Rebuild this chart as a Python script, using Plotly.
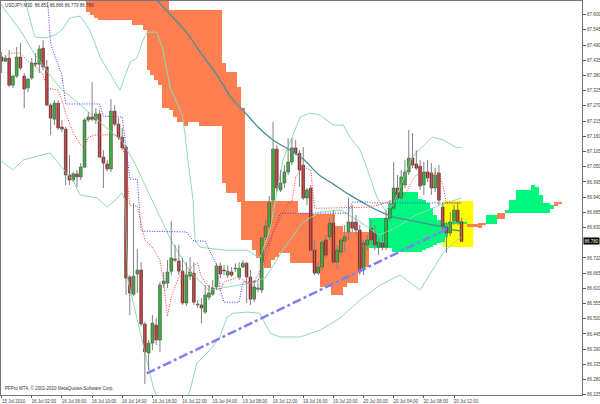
import plotly.graph_objects as go

# ---------------- data ----------------
# M30 candles, bar 0 = 15 Jul 2010 22:00
opens = [87.447, 87.432, 87.443, 87.345, 87.378, 87.447, 87.378, 87.335, 87.371, 87.425,
         87.421, 87.479, 87.411, 87.273, 87.222, 87.280, 87.194, 87.186, 87.020, 87.002,
         87.024, 87.013, 87.049, 87.219, 87.230, 87.219, 87.241, 87.085, 87.060, 87.042,
         87.251, 87.204, 87.157, 87.121, 86.651, 86.589, 86.662, 86.676, 86.481, 86.376,
         86.412, 86.477, 86.423, 86.626, 86.629, 86.672, 86.716, 86.709, 86.672, 86.557,
         86.654, 86.665, 86.550, 86.550, 86.524, 86.578, 86.589, 86.615, 86.691, 86.676,
         86.658, 86.669, 86.683, 86.651, 86.687, 86.701, 86.651, 86.571, 86.607, 86.604,
         86.796, 86.835, 86.929, 87.114, 86.966, 86.991, 87.031, 87.067, 87.118, 87.099,
         87.056, 86.937, 86.973, 86.748, 86.665, 86.687, 86.785, 86.796, 86.846, 86.705,
         86.741, 86.781, 86.814, 86.850, 86.850, 86.821, 86.676, 86.767, 86.828, 86.810,
         86.759, 86.774, 86.759, 86.864, 86.900, 86.973, 86.937, 86.984, 87.031, 87.081,
         87.060, 87.052, 86.984, 87.031, 87.027, 86.973, 87.027, 86.904, 86.832, 86.810,
         86.853, 86.893, 86.851]
highs = [87.465, 87.454, 87.472, 87.382, 87.483, 87.497, 87.389, 87.371, 87.443, 87.461,
         87.490, 87.508, 87.436, 87.280, 87.291, 87.291, 87.219, 87.194, 87.092, 87.031,
         87.038, 87.063, 87.226, 87.248, 87.356, 87.262, 87.255, 87.110, 87.074, 87.295,
         87.273, 87.226, 87.190, 87.128, 86.658, 86.919, 86.752, 86.705, 86.488, 86.423,
         86.513, 86.502, 86.633, 86.669, 86.712, 86.853, 86.767, 86.767, 86.720, 86.705,
         86.723, 86.705, 86.568, 86.575, 86.622, 86.622, 86.640, 86.701, 86.705, 86.694,
         86.694, 86.687, 86.701, 86.705, 86.712, 86.705, 86.676, 86.640, 86.629, 86.799,
         86.857, 86.944, 87.212, 87.128, 87.038, 87.056, 87.154, 87.154, 87.147, 87.110,
         87.121, 86.973, 86.984, 86.785, 86.705, 86.785, 86.803, 86.864, 86.893, 86.767,
         86.792, 86.839, 86.937, 86.911, 86.875, 86.839, 86.785, 86.803, 86.857, 86.839,
         86.792, 86.803, 86.893, 86.929, 87.067, 87.020, 87.038, 87.074, 87.183, 87.172,
         87.110, 87.074, 87.067, 87.074, 87.063, 87.045, 87.056, 86.919, 86.850, 86.886,
         86.911, 86.919, 86.866]
lows = [87.389, 87.429, 87.338, 87.335, 87.371, 87.400, 87.262, 87.320, 87.364, 87.411,
        87.389, 87.400, 87.269, 87.165, 87.201, 87.183, 87.175, 86.984, 86.984, 86.995,
        86.977, 87.002, 87.045, 87.212, 87.215, 87.204, 87.081, 86.973, 87.034, 87.031,
        87.197, 87.147, 87.110, 86.586, 86.513, 86.582, 86.593, 86.474, 86.264, 86.314,
        86.387, 86.405, 86.380, 86.611, 86.611, 86.658, 86.705, 86.658, 86.550, 86.546,
        86.640, 86.550, 86.539, 86.484, 86.517, 86.568, 86.582, 86.604, 86.647, 86.658,
        86.647, 86.651, 86.669, 86.640, 86.683, 86.557, 86.550, 86.560, 86.596, 86.593,
        86.785, 86.828, 86.911, 86.958, 86.958, 86.973, 87.020, 87.056, 87.092, 86.977,
        86.929, 86.911, 86.741, 86.658, 86.658, 86.676, 86.720, 86.785, 86.694, 86.676,
        86.726, 86.741, 86.785, 86.814, 86.803, 86.658, 86.658, 86.748, 86.767, 86.748,
        86.730, 86.748, 86.748, 86.850, 86.893, 86.929, 86.929, 86.973, 87.020, 87.045,
        87.038, 86.966, 86.948, 86.995, 86.948, 86.958, 86.911, 86.821, 86.738, 86.799,
        86.839, 86.839, 86.779]
closes = [87.432, 87.443, 87.345, 87.378, 87.447, 87.407, 87.331, 87.367, 87.425, 87.421,
          87.476, 87.411, 87.273, 87.226, 87.280, 87.190, 87.186, 87.020, 87.002, 87.024,
          87.013, 87.049, 87.219, 87.230, 87.222, 87.241, 87.085, 87.063, 87.042, 87.251,
          87.204, 87.157, 87.118, 86.647, 86.593, 86.654, 86.676, 86.481, 86.380, 86.412,
          86.484, 86.423, 86.622, 86.636, 86.669, 86.720, 86.712, 86.672, 86.557, 86.658,
          86.669, 86.560, 86.553, 86.539, 86.586, 86.593, 86.611, 86.691, 86.662, 86.673,
          86.672, 86.658, 86.681, 86.683, 86.701, 86.651, 86.571, 86.615, 86.611, 86.792,
          86.835, 86.919, 87.114, 86.973, 86.991, 87.031, 87.067, 87.118, 87.099, 87.038,
          86.937, 86.966, 86.748, 86.665, 86.687, 86.777, 86.730, 86.846, 86.705, 86.748,
          86.785, 86.796, 86.850, 86.828, 86.821, 86.669, 86.774, 86.785, 86.785, 86.767,
          86.777, 86.759, 86.864, 86.900, 86.973, 86.937, 87.013, 87.031, 87.081, 87.056,
          87.045, 86.980, 87.031, 87.009, 86.973, 87.020, 86.929, 86.832, 86.810, 86.850,
          86.893, 86.850, 86.780]

# Ichimoku cloud (Senkou span A / B), bars 23 .. 148 (shifted 26 bars ahead)
cloud_start = 23
span_a = ([87.610, 87.599, 87.588] + [87.581] * 9 + [87.563] * 3 + [87.545, 87.400, 87.382, 87.364, 87.345]
          + [87.262] * 2 + [87.255, 87.230] + [87.212] * 2 + [87.197] + [87.212] * 3 + [87.197] * 6
          + [86.991] + [86.955] * 3 + [86.922] + [86.785] * 3 + [86.748, 86.720, 86.705] + [86.683] * 2
          + [86.712, 86.723] + [86.738] * 3 + [86.701] * 6 + [86.665] * 2 + [86.615] * 3 + [86.586] * 3
          + [86.615] + [86.629] * 3 + [86.687] * 3
          + [86.864] * 5 + [86.919] + [86.958] * 7 + [86.933, 86.929, 86.919, 86.900, 86.875, 86.857]
          + [86.846] * 2 + [86.850] * 5 + [86.833] * 3 + [86.828, 86.839] + [86.875] * 3 + [86.861] * 2
          + [86.893] + [86.929] * 2 + [86.966] * 4 + [86.984, 86.977, 86.948] + [86.919] * 2 + [86.911]
          + [86.908, 86.915])
span_b = ([87.700] * 22 + [87.617] * 14 + [87.425] + [87.392] * 3 + [87.338, 87.262] + [86.926] * 14
          + [86.882] * 3 + [86.879] * 7 + [86.835] * 2 + [86.814] * 7
          + [86.756] * 6 + [86.741] * 8 + [86.748, 86.756, 86.759, 86.767, 86.774, 86.777, 86.796]
          + [86.843] * 5 + [86.844] * 3 + [86.846] * 2 + [86.843] * 3 + [86.882] * 2 + [86.882] * 12
          + [86.897] + [86.922] * 2)

# Tenkan-sen (bar, price)
tenkan_bar = [1, 2, 5, 7, 9, 11, 12, 15, 16, 17, 18, 19, 21, 22, 23, 25, 30, 32, 33, 34, 36, 37, 38, 40,
              42, 43, 44, 45, 47, 49, 51, 52, 53, 55, 58, 59, 63, 65, 67, 70, 72, 74, 76, 77, 78, 80, 82,
              83, 85, 98, 104, 107, 109, 110, 112, 116, 117, 118, 122]
tenkan_val = [87.447, 87.461, 87.461, 87.432, 87.414, 87.382, 87.335, 87.327, 87.291, 87.244, 87.208,
              87.172, 87.128, 87.121, 87.157, 87.165, 87.165, 87.147, 87.049, 86.911, 86.908, 86.850,
              86.785, 86.759, 86.712, 86.629, 86.510, 86.578, 86.651, 86.665, 86.694, 86.701, 86.651,
              86.615, 86.604, 86.633, 86.651, 86.629, 86.633, 86.712, 86.810, 86.868, 86.919, 86.922,
              87.013, 87.049, 87.038, 86.900, 86.900, 86.904, 86.929, 86.948, 87.002, 87.020, 87.027,
              87.027, 86.984, 86.919, 86.919]

# Kijun-sen (bar, price)
kijun_bar = [12, 13, 14, 15, 16, 17, 26, 27, 32, 33, 34, 36, 37, 49, 51, 54, 56, 57, 58, 59, 63, 64,
             68, 70, 72, 74, 92, 93, 97, 98, 122]
kijun_val = [87.690, 87.497, 87.454, 87.418, 87.382, 87.277, 87.277, 87.233, 87.230, 87.121, 87.005,
             87.005, 86.817, 86.814, 86.781, 86.781, 86.723, 86.694, 86.604, 86.560, 86.560, 86.633,
             86.633, 86.748, 86.814, 86.882, 86.882, 86.922, 86.922, 86.919, 86.919]

# Bollinger bands (bar, price)
bb_up_bar = [5.0, 6.2, 8.3, 8.9, 11.5, 14.2, 16.0, 18.1, 20.8, 23.4, 26.1, 31.4, 34.1, 35.9, 37.5, 38.6,
             41.2, 42.8, 44.7, 46.5, 47.9, 48.6, 49.4, 50.8, 51.3, 52.6, 59.3, 65.1, 68.5, 71.2, 74.6,
             79.2, 81.8, 84.5, 87.9, 90.6, 92.4, 95.1, 96.9, 99.6, 101.7, 103.8, 106.5, 108.9, 114.2,
             117.1, 120.8, 122]
bb_up_val = [87.707, 87.653, 87.545, 87.519, 87.516, 87.527, 87.545, 87.588, 87.595, 87.545, 87.447,
             87.327, 87.429, 87.443, 87.508, 87.537, 87.537, 87.472, 87.338, 87.280, 87.237, 87.172,
             87.074, 86.929, 86.785, 86.759, 86.748, 86.748, 86.720, 86.821, 87.074, 87.230, 87.244,
             87.237, 87.201, 87.201, 87.157, 87.110, 87.045, 86.937, 86.893, 86.911, 87.002, 87.085,
             87.157, 87.147, 87.118, 87.121]
bb_mid_bar = [-0.4, 0.9, 4.9, 8.9, 12.8, 15.5, 20.0, 26.1, 31.9, 34.9, 39.9, 44.9, 50.0, 55.0, 60.1,
              65.9, 69.9, 74.6, 79.9, 84.5, 90.0, 95.1, 100.1, 104.4, 109.9, 116.3, 122]
bb_mid_val = [87.642, 87.617, 87.545, 87.454, 87.382, 87.335, 87.284, 87.212, 87.143, 87.074, 86.929,
              86.785, 86.669, 86.604, 86.615, 86.629, 86.647, 86.748, 86.850, 86.886, 86.893, 86.850,
              86.803, 86.828, 86.875, 86.911, 86.937]
bb_low_bar = [-0.4, 3.0, 5.7, 12.8, 18.1, 18.9, 20.8, 25.3, 28.0, 30.1, 31.9, 32.7, 33.5, 36.7, 38.6,
              40.2, 43.3, 47.3, 50.0, 51.8, 55.3, 57.9, 59.8, 61.4, 65.1, 68.5, 71.2, 73.8, 79.2, 84.5,
              89.8, 95.1, 100.4, 105.7, 111.0, 114.4, 117.1, 120.8, 122]
bb_low_val = [87.074, 87.038, 87.074, 87.100, 87.013, 87.002, 86.948, 86.937, 86.904, 86.929, 86.955,
              86.929, 86.640, 86.459, 86.351, 86.253, 86.134, 86.134, 86.242, 86.340, 86.387, 86.434,
              86.506, 86.520, 86.524, 86.520, 86.448, 86.434, 86.434, 86.459, 86.503, 86.568, 86.622,
              86.658, 86.604, 86.676, 86.738, 86.785, 86.796]

# moving average (bar, price)
ma_bar = [36, 41, 45, 49, 53, 57, 61, 64, 68, 72, 76, 80, 84, 88, 92, 96, 100, 104, 108, 112, 116, 119, 122]
ma_val = [87.725, 87.655, 87.597, 87.537, 87.458, 87.385, 87.298, 87.255, 87.194, 87.147, 87.114,
          87.078, 87.023, 86.987, 86.951, 86.919, 86.890, 86.868, 86.857, 86.846, 86.835, 86.824, 86.817]

# trend line and highlighted zone
trend_bar = [38.5, 117.9]
trend_val = [86.302, 86.823]
zone_bar = [117.1, 125.1]
zone_val = [86.760, 86.926]

# axis labels
x_tick_bar = [0, 8, 16, 24, 32, 40, 48, 56, 64, 72, 80, 88, 96, 104, 112, 120]
x_tick_text = ["15 Jul 2010", "16 Jul 02:00", "16 Jul 06:00", "16 Jul 10:00", "16 Jul 14:00",
               "16 Jul 18:00", "16 Jul 22:00", "19 Jul 04:00", "19 Jul 08:00", "19 Jul 12:00",
               "19 Jul 16:00", "19 Jul 20:00", "20 Jul 00:00", "20 Jul 04:00", "20 Jul 08:00",
               "20 Jul 12:00"]
y_tick_val = [87.600, 87.545, 87.490, 87.435, 87.380, 87.325, 87.270, 87.215, 87.160, 87.105,
              87.050, 86.995, 86.940, 86.885, 86.830, 86.720, 86.665, 86.610, 86.555, 86.500,
              86.445, 86.390, 86.335, 86.280, 86.225]
y_tick_text = ["%.3f" % v for v in y_tick_val]
last_price = 86.780
title_text = "USDJPY,M30  86.851 86.866 86.779 86.780"
copyright_text = "PFPro MT4, \u00a9 2001-2010 MetaQuotes Software Corp."

# ---------------- figure ----------------
FONT = "Liberation Sans"
fig = go.Figure()

# cloud as histogram bars
c_x, c_base, c_h, c_col = [], [], [], []
for k, (a, b) in enumerate(zip(span_a, span_b)):
    c_x.append(cloud_start + k)
    c_base.append(min(a, b))
    c_h.append(abs(a - b))
    c_col.append("#00F77F" if a >= b else "#FF7F50")
fig.add_trace(go.Bar(x=c_x, y=c_h, base=c_base, width=1.04, marker=dict(color=c_col, line=dict(width=0))))

bb_col = "#8fdcb4"
for bx, bv in ((bb_up_bar, bb_up_val), (bb_mid_bar, bb_mid_val), (bb_low_bar, bb_low_val)):
    fig.add_trace(go.Scatter(x=bx, y=bv, mode="lines", line=dict(color=bb_col, width=1)))

fig.add_trace(go.Scatter(x=ma_bar, y=ma_val, mode="lines", line=dict(color="#4b8d9b", width=1.3, shape="spline")))
fig.add_trace(go.Scatter(x=kijun_bar, y=kijun_val, mode="lines", line=dict(color="#3a3aff", width=1, dash="1px,1.5px")))
fig.add_trace(go.Scatter(x=tenkan_bar, y=tenkan_val, mode="lines", line=dict(color="#ff3030", width=1, dash="1px,1.5px")))

# candles: wicks
wx, wy = [], []
for i, (h, l) in enumerate(zip(highs, lows)):
    wx += [i, i, None]
    wy += [l, h, None]
fig.add_trace(go.Scatter(x=wx, y=wy, mode="lines", line=dict(color="#808080", width=1)))
# candles: bodies
bx_, bb_, bh_, bc_ = [], [], [], []
for i, (o, c) in enumerate(zip(opens, closes)):
    bx_.append(i)
    bb_.append(min(o, c))
    bh_.append(max(abs(c - o), 0.0012))
    bc_.append("#00E000" if c > o else "#FF0000")
fig.add_trace(go.Bar(x=bx_, y=bh_, base=bb_, width=0.72,
                     marker=dict(color=bc_, line=dict(color="#303030", width=0.6))))

fig.add_trace(go.Scatter(x=trend_bar, y=trend_val, mode="lines",
                         line=dict(color="#7f7ff2", width=2.5, dash="dashdot")))

fig.add_shape(type="rect", x0=zone_bar[0], x1=zone_bar[1], y0=zone_val[0], y1=zone_val[1],
              fillcolor="#FFFF00", line=dict(width=0), layer="below")

fig.add_annotation(text=title_text, xref="paper", yref="paper", x=0.004, y=0.999, xanchor="left",
                   yanchor="top", showarrow=False, font=dict(family=FONT, size=4.5, color="#333"))
fig.add_annotation(text=copyright_text, xref="paper", yref="paper", x=0.004, y=0.004, xanchor="left",
                   yanchor="bottom", showarrow=False, font=dict(family=FONT, size=4.5, color="#333"))
fig.add_annotation(text="%.3f" % last_price, xref="paper", yref="y", x=1.0, y=last_price, xanchor="left",
                   yanchor="middle", showarrow=False, bgcolor="#000000", xshift=1, borderpad=0.5,
                   font=dict(family=FONT, size=4.5, color="#ffffff"))

fig.update_layout(
    width=600, height=404, margin=dict(l=1, r=18, t=1, b=9),
    paper_bgcolor="white", plot_bgcolor="white", showlegend=False, barmode="overlay",
    hovermode=False, bargap=0,
    xaxis=dict(range=[-0.16, 153.95], showgrid=False, zeroline=False, tickmode="array",
               tickvals=x_tick_bar, ticktext=x_tick_text, ticks="outside", ticklen=2, tickcolor="#555",
               showline=True, linecolor="#777", linewidth=1, mirror=True, ticklabelshift=12,
               automargin=False, tickfont=dict(family=FONT, size=4.5, color="#444")),
    yaxis=dict(range=[86.2241, 87.6496], side="right", showgrid=False, zeroline=False, tickmode="array",
               tickvals=y_tick_val, ticktext=y_tick_text, ticks="outside", ticklen=3, tickcolor="#555",
               showline=True, linecolor="#777", linewidth=1, mirror=True, automargin=False,
               tickfont=dict(family=FONT, size=4.5, color="#444")),
)

fig.write_html("out.html", config={"displayModeBar": False, "staticPlot": True},
               post_script="document.body.style.margin='0';document.body.style.padding='0';")
